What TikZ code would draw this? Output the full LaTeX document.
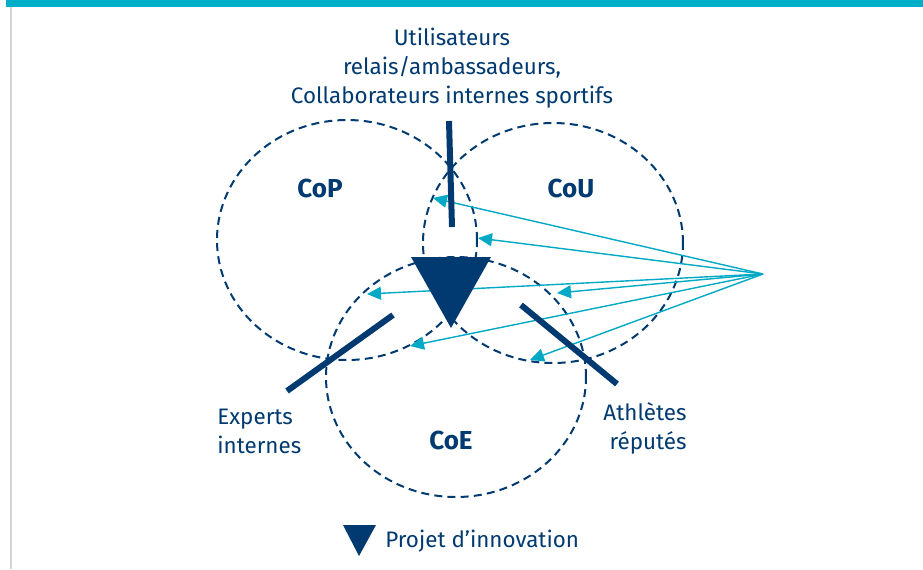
\documentclass[tikz,border=0pt]{standalone}
\usepackage{fontspec}
\setmainfont{Fira Sans}
\usetikzlibrary{arrows.meta,shapes.geometric}
\definecolor{navy}{HTML}{003A70}
\definecolor{teal}{HTML}{00AEC7}
\definecolor{aqua}{HTML}{00A9C5}
\definecolor{edge}{HTML}{D4D4D4}
\tikzset{
  ring/.style={ellipse, draw=navy, line width=1pt, dash pattern=on 4pt off 2.6pt, minimum width=130pt, minimum height=120pt, inner sep=0pt},
  tag/.style={text=navy, font=\bfseries\fontsize{13}{16}\selectfont, inner sep=0pt},
  txt/.style={text=navy, font=\fontsize{11.2}{14.5}\selectfont, inner sep=0pt},
  bar/.style={draw=navy, line width=3pt},
  ray/.style={draw=aqua, line width=0.7pt, -{Triangle[length=7pt,width=6.5pt]}},
}
\begin{document}
\begin{tikzpicture}[x=0.5pt,y=-0.5pt]
\useasboundingbox (0,0) rectangle (923,569);
\fill[white] (0,0) rectangle (923,569);
% frame
\fill[teal] (6,0) rectangle (923,7);
\draw[edge, line width=0.6pt] (11,7) -- (11,569);
% circles
\node[ring] (cop) at (347,240) {};
\node[ring] (cou) at (553,243) {};
\node[ring] (coe) at (456,377) {};
\node[tag] (lcop) at (320,188) {CoP};
\node[tag] (lcou) at (571,188) {CoU};
\node[tag] (lcoe) at (451,440) {CoE};
% arrows
\coordinate (src) at (763,274);
\coordinate (t1) at (433,198);
\coordinate (t2) at (478,238);
\coordinate (t3) at (367,294);
\coordinate (t4) at (557,293);
\coordinate (t5) at (410,346);
\coordinate (t6) at (530,360);
\foreach \t in {t1,t2,t3,t4,t5,t6} \draw[ray] (src) -- (\t);
% triangle
\coordinate (pa) at (411,257);
\coordinate (pb) at (491,257);
\coordinate (pc) at (451,328);
\fill[navy] (pa) -- (pb) -- (pc) -- cycle;
% thick bars
\coordinate (u1) at (449,121);
\coordinate (u2) at (452,227);
\coordinate (e1) at (393,315);
\coordinate (e2) at (287,391);
\coordinate (a1) at (521,305);
\coordinate (a2) at (617,384);
\draw[bar] (u1) -- (u2);
\draw[bar] (e1) -- (e2);
\draw[bar] (a1) -- (a2);
% texts
\node[txt, align=center] (top) at (452,68) {Utilisateurs\\relais/ambassadeurs,\\Collaborateurs internes sportifs};
\node[txt, align=left, anchor=west] (exp) at (217,431) {Experts\\internes};
\node[txt, align=right, anchor=east] (ath) at (687,428) {Athlètes\\réputés};
% legend
\coordinate (la) at (343,525);
\coordinate (lb) at (376,525);
\coordinate (lc) at (359,556);
\fill[navy] (la) -- (lb) -- (lc) -- cycle;
\node[txt, anchor=west] (leg) at (385,541) {Projet d’innovation};
\end{tikzpicture}
\end{document}
